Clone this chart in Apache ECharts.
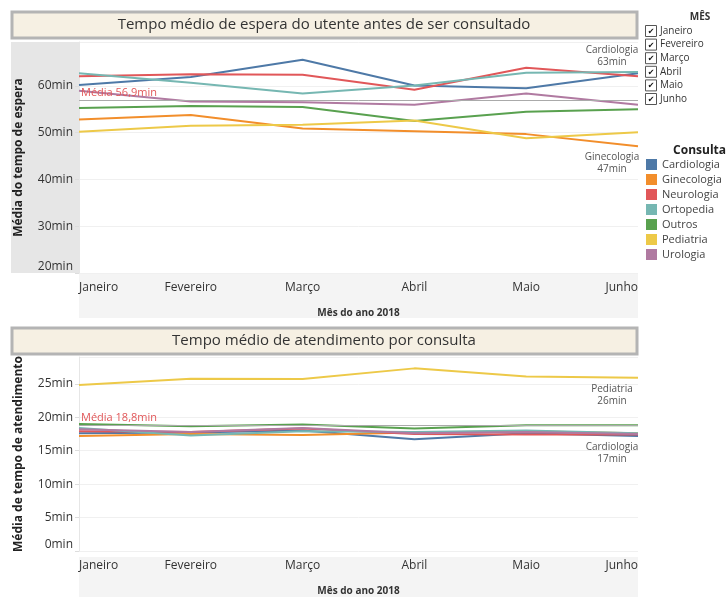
<!DOCTYPE html>
<html>
<head>
<meta charset="utf-8">
<script src="https://cdn.jsdelivr.net/npm/echarts@6/dist/echarts.min.js"></script>
<style>
  html, body { margin: 0; padding: 0; background: #fff; }
  #chart { width: 726px; height: 597px; }
</style>
</head>
<body>
<div id="chart"></div>
<script>
// meses e consultas
const meses = ['Janeiro', 'Fevereiro', 'Março', 'Abril', 'Maio', 'Junho']
const consultas = ['Cardiologia', 'Ginecologia', 'Neurologia', 'Ortopedia', 'Outros', 'Pediatria', 'Urologia']
const cores = ['#4e79a7', '#f28e2b', '#e15759', '#76b7b2', '#59a14f', '#edc948', '#b07aa1']

// tempo médio de espera (min)
const esperaCardiologia = [60.2, 61.9, 65.6, 60.1, 59.5, 62.7]
const esperaGinecologia = [52.8, 53.8, 50.9, 50.3, 49.7, 47.1]
const esperaNeurologia = [62.1, 62.5, 62.4, 59.2, 63.9, 62.1]
const esperaOrtopedia = [62.7, 60.7, 58.4, 60.1, 62.8, 63.0]
const esperaOutros = [55.3, 55.7, 55.5, 52.5, 54.5, 55.0]
const esperaPediatria = [50.2, 51.5, 51.7, 52.6, 48.8, 50.1]
const esperaUrologia = [59.0, 56.7, 56.5, 56.0, 58.4, 56.0]
const mediaEspera = 56.9

// tempo médio de atendimento (min)
const atendCardiologia = [17.6, 17.7, 18.0, 16.7, 17.6, 17.2]
const atendGinecologia = [17.2, 17.5, 17.35, 17.7, 17.9, 17.6]
const atendNeurologia = [17.9, 17.8, 18.3, 17.5, 17.4, 17.4]
const atendOrtopedia = [18.4, 17.25, 17.9, 17.8, 18.0, 17.6]
const atendOutros = [19.0, 18.65, 18.9, 18.3, 18.8, 18.8]
const atendPediatria = [24.8, 25.75, 25.7, 27.3, 26.1, 25.9]
const atendUrologia = [18.2, 17.8, 18.4, 17.6, 17.8, 17.5]
const mediaAtendimento = 18.8

const ticksEspera = [20, 30, 40, 50, 60]
const ticksAtendimento = [0, 5, 10, 15, 20, 25]

const espera = [esperaCardiologia, esperaGinecologia, esperaNeurologia, esperaOrtopedia, esperaOutros, esperaPediatria, esperaUrologia]
const atendimento = [atendCardiologia, atendGinecologia, atendNeurologia, atendOrtopedia, atendOutros, atendPediatria, atendUrologia]

const FONT = 'Open Sans'

// rótulos no fim da linha (ex: "Cardiologia\n63min")
const labelsTop = { Cardiologia: 'top', Ginecologia: 'bottom' }
const labelsBottom = { Pediatria: 'bottom', Cardiologia: 'bottom' }

function endLabelCfg(pos) {
  if (!pos) return { show: false }
  return {
    show: true,
    align: 'center',
    verticalAlign: pos === 'top' ? 'bottom' : 'top',
    offset: [-26, pos === 'top' ? -5 : 5],
    distance: 0,
    formatter: p => p.seriesName + '\n' + Math.round(p.value) + 'min',
    fontFamily: FONT,
    fontSize: 10,
    lineHeight: 12,
    color: '#555'
  }
}

function buildSeries(dataSets, axisIdx, labels, media) {
  return consultas.map((name, k) => {
    const s = {
      name: name,
      type: 'line',
      xAxisIndex: axisIdx,
      yAxisIndex: axisIdx,
      showSymbol: false,
      symbol: 'none',
      lineStyle: { width: 2, color: cores[k] },
      itemStyle: { color: cores[k] },
      emphasis: { disabled: true },
      z: 3,
      endLabel: endLabelCfg(labels[name]),
      data: dataSets[k]
    }
    if (k === 0) {
      s.markLine = {
        silent: true,
        symbol: 'none',
        lineStyle: { color: '#aaa', width: 1, type: 'solid' },
        label: {
          position: 'insideStartTop',
          distance: [2, 2],
          formatter: 'Média ' + String(media).replace('.', ',') + 'min',
          color: '#e15759',
          fontFamily: FONT,
          fontSize: 11
        },
        data: [{ yAxis: media }]
      }
    }
    return s
  })
}

function yAxisCfg(idx, name, min, max, ticks, color) {
  return {
    type: 'value',
    gridIndex: idx,
    min: min,
    max: max,
    interval: 5 * (idx === 0 ? 2 : 1),
    name: name,
    nameLocation: 'middle',
    nameGap: 54,
    nameTextStyle: { fontFamily: FONT, fontWeight: 'bold', fontSize: 12, color: '#222' },
    axisLine: { show: true, lineStyle: { color: color } },
    axisTick: { show: true, length: 4, lineStyle: { color: '#ddd' } },
    axisLabel: {
      fontFamily: FONT,
      fontSize: 12,
      color: '#333',
      margin: 6,
      showMaxLabel: false,
      verticalAlignMinLabel: 'bottom',
      formatter: v => ticks.indexOf(v) >= 0 ? v + 'min' : ''
    },
    splitLine: { lineStyle: { color: '#f0f0f0', width: 1 } }
  }
}

function xAxisCfg(idx) {
  return {
    type: 'category',
    gridIndex: idx,
    data: meses,
    boundaryGap: false,
    name: 'Mês do ano 2018',
    nameLocation: 'middle',
    nameGap: 35,
    nameTextStyle: { fontFamily: FONT, fontWeight: 'bold', fontSize: 10, color: '#333' },
    axisLine: { show: false },
    axisTick: { show: false },
    axisLabel: {
      fontFamily: FONT,
      fontSize: 12,
      color: '#333',
      margin: 9,
      alignMinLabel: 'left',
      alignMaxLabel: 'right'
    },
    splitLine: { show: false }
  }
}

function titleBox(y, text) {
  return {
    type: 'group',
    silent: true,
    children: [
      { type: 'rect', shape: { x: 12, y: y, width: 625, height: 26 },
        style: { fill: '#f6f0e3', stroke: '#b4b4b4', lineWidth: 3 } },
      { type: 'text', x: 324, y: y + 13,
        style: { text: text, fill: '#333', font: '15px "' + FONT + '"', align: 'center', verticalAlign: 'middle' } }
    ]
  }
}

const filtro = [{
  type: 'text', x: 700, y: 17,
  style: { text: 'MÊS', fill: '#333', font: 'bold 10px "' + FONT + '"', align: 'center', verticalAlign: 'middle' }
}]
meses.forEach((m, i) => {
  const cy = 31 + i * 13.6
  filtro.push({ type: 'rect', shape: { x: 645.5, y: cy - 5.5, width: 11, height: 11 },
    style: { fill: '#fff', stroke: '#555', lineWidth: 1 } })
  filtro.push({ type: 'text', x: 651, y: cy + 1,
    style: { text: '✔', fill: '#111', font: '8px "DejaVu Sans"', align: 'center', verticalAlign: 'middle' } })
  filtro.push({ type: 'text', x: 660, y: cy,
    style: { text: m, fill: '#333', font: '10px "' + FONT + '"', align: 'left', verticalAlign: 'middle' } })
})
filtro.push({ type: 'text', x: 726, y: 151,
  style: { text: 'Consulta', fill: '#222', font: 'bold 12px "' + FONT + '"', align: 'right', verticalAlign: 'middle' } })

const chart = echarts.init(document.getElementById('chart'), null, { renderer: 'canvas' })

chart.setOption({
  animation: false,
  backgroundColor: '#fff',
  grid: [
    { left: 79, top: 42, width: 559, height: 231 },
    { left: 79, top: 357, width: 559, height: 200 }
  ],
  xAxis: [xAxisCfg(0), xAxisCfg(1)],
  yAxis: [
    yAxisCfg(0, 'Média do tempo de espera', 20, 69.4, ticksEspera, '#e6e6e6'),
    yAxisCfg(1, 'Média de tempo de atendimento', 0, 29, ticksAtendimento, '#e6e6e6')
  ],
  legend: {
    orient: 'vertical',
    left: 646,
    top: 159,
    padding: 0,
    icon: 'rect',
    itemWidth: 11,
    itemHeight: 11,
    itemGap: 4,
    selectedMode: false,
    data: consultas,
    textStyle: { fontFamily: FONT, fontSize: 11, color: '#444' }
  },
  graphic: [
    // fundos cinzentos dos eixos
    { type: 'rect', z: -10, silent: true, shape: { x: 11, y: 42, width: 68, height: 231 }, style: { fill: '#e6e6e6' } },
    { type: 'rect', z: -10, silent: true, shape: { x: 79, y: 273, width: 559, height: 45 }, style: { fill: '#f4f4f4' } },
    { type: 'rect', z: -10, silent: true, shape: { x: 79, y: 557, width: 559, height: 40 }, style: { fill: '#f4f4f4' } },
    titleBox(12, 'Tempo médio de espera do utente antes de ser consultado'),
    titleBox(328, 'Tempo médio de atendimento por consulta'),
    { type: 'group', silent: true, children: filtro }
  ],
  series: buildSeries(espera, 0, labelsTop, mediaEspera)
    .concat(buildSeries(atendimento, 1, labelsBottom, mediaAtendimento))
})
</script>
</body>
</html>
